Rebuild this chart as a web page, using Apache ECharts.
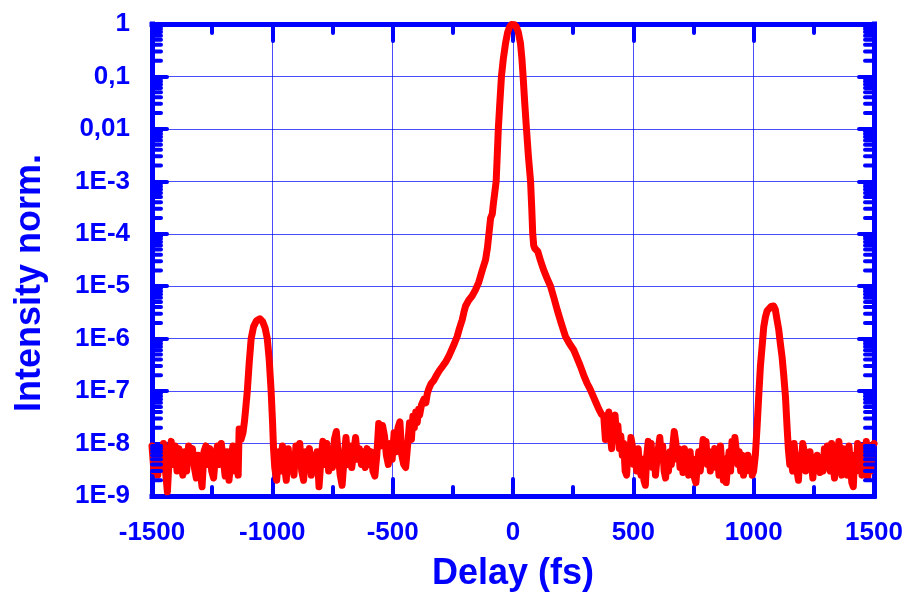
<!DOCTYPE html>
<html>
<head>
<meta charset="utf-8">
<script src="https://cdn.jsdelivr.net/npm/echarts@6/dist/echarts.min.js"></script>
<style>
  html, body { margin: 0; padding: 0; background: #ffffff; }
  #chart { width: 908px; height: 597px; }
</style>
</head>
<body>
<div id="chart"></div>
<script>
// Autocorrelation trace: delay (fs) vs normalised intensity, log scale.
// Each segment is a list of [delay, intensity] pairs.

// Noise floor, far left
var floorA = [
  [-1500, 9e-9], [-1492, 3e-9], [-1484, 6e-9], [-1476, 2.5e-9], [-1468, 8e-9],
  [-1460, 4e-9], [-1452, 10e-9], [-1444, 3e-9], [-1436, 1.2e-9], [-1428, 6e-9],
  [-1420, 11e-9], [-1412, 4e-9], [-1404, 9e-9], [-1396, 3e-9], [-1388, 8e-9],
  [-1380, 4.5e-9], [-1372, 2.5e-9], [-1364, 7e-9], [-1356, 3e-9], [-1348, 9e-9],
  [-1340, 5e-9], [-1332, 8e-9], [-1324, 3.5e-9], [-1316, 2.2e-9], [-1308, 6e-9],
  [-1300, 3e-9], [-1292, 1.5e-9], [-1284, 7e-9], [-1276, 9e-9], [-1268, 4e-9],
  [-1260, 8e-9], [-1252, 3e-9], [-1244, 2.2e-9], [-1236, 6e-9], [-1228, 9e-9],
  [-1220, 4e-9], [-1212, 10e-9], [-1204, 5e-9], [-1196, 2.4e-9], [-1188, 7e-9],
  [-1180, 2e-9], [-1172, 5e-9], [-1164, 9e-9], [-1156, 3e-9], [-1148, 6e-9],
  [-1142, 2.5e-9]
];

// Satellite pulse at negative delay
var echoLeft = [
  [-1138, 1.9e-8], [-1130, 1.2e-8], [-1122, 1.6e-8], [-1116, 2.6e-8], [-1110, 5e-8],
  [-1104, 1e-7], [-1096, 3.5e-7], [-1088, 1e-6], [-1078, 1.7e-6], [-1066, 2.2e-6],
  [-1052, 2.4e-6], [-1040, 2.1e-6], [-1030, 1.6e-6], [-1021, 1e-6], [-1013, 4e-7],
  [-1005, 1e-7], [-999, 2.5e-8], [-995, 8e-9]
];

// Noise floor between satellite and main pulse (negative side)
var floorB = [
  [-990, 3.5e-9], [-982, 2e-9], [-974, 7e-9], [-966, 3e-9], [-958, 9e-9],
  [-950, 4e-9], [-942, 2e-9], [-934, 8e-9], [-926, 3e-9], [-918, 6e-9],
  [-910, 2.5e-9], [-902, 9e-9], [-894, 4e-9], [-886, 10e-9], [-878, 3e-9],
  [-870, 2e-9], [-862, 7e-9], [-854, 3.5e-9], [-846, 8e-9], [-838, 2.5e-9],
  [-830, 6e-9], [-822, 3e-9], [-814, 7e-9], [-806, 1.5e-9], [-798, 5e-9],
  [-790, 11e-9], [-782, 4e-9], [-774, 10e-9], [-766, 3e-9], [-758, 6e-9],
  [-750, 3.5e-9], [-742, 12e-9], [-734, 17e-9], [-726, 6e-9], [-718, 2.5e-9],
  [-710, 1.6e-9], [-702, 5e-9], [-694, 13e-9], [-686, 4e-9], [-678, 9e-9],
  [-670, 3.5e-9], [-662, 7e-9], [-654, 13e-9], [-646, 5e-9], [-638, 8e-9],
  [-630, 4e-9], [-622, 7e-9], [-614, 3.5e-9], [-606, 8e-9], [-598, 4e-9],
  [-590, 7e-9], [-582, 3e-9], [-574, 2.4e-9], [-566, 6e-9], [-558, 24e-9],
  [-550, 9e-9], [-542, 22e-9], [-534, 14e-9], [-526, 6e-9], [-518, 4e-9],
  [-510, 10e-9], [-502, 5e-9], [-494, 16e-9], [-486, 7e-9], [-478, 20e-9],
  [-470, 26e-9], [-462, 6e-9], [-454, 4e-9], [-446, 3.5e-9], [-438, 9e-9],
  [-430, 25e-9], [-422, 12e-9], [-416, 33e-9]
];

// Main pulse with its pedestal
var mainPulse = [
  [-410, 2e-8], [-404, 4e-8], [-398, 2.5e-8], [-392, 4.5e-8], [-388, 3.5e-8],
  [-380, 5.5e-8], [-370, 7e-8], [-362, 6e-8], [-356, 9e-8], [-350, 1.1e-7],
  [-340, 1.4e-7], [-329, 1.6e-7], [-318, 2e-7], [-305, 2.5e-7], [-292, 3e-7],
  [-280, 3.6e-7], [-268, 4.5e-7], [-256, 6e-7], [-244, 8e-7], [-232, 1.1e-6],
  [-222, 1.6e-6], [-211, 2.3e-6], [-204, 3.2e-6], [-197, 4.2e-6], [-184, 5.4e-6],
  [-170, 6.5e-6], [-156, 8.5e-6], [-142, 1.2e-5], [-128, 2e-5], [-114, 3.2e-5],
  [-106, 5.5e-5], [-100, 1e-4], [-93, 2e-4], [-86, 2.4e-4], [-82, 3.6e-4],
  [-76, 6e-4], [-70, 1e-3], [-65, 3.5e-3], [-61, 1e-2], [-55, 3e-2],
  [-48, 0.1], [-40, 0.22], [-31, 0.43], [-22, 0.7], [-14, 0.88],
  [-6, 0.98], [0, 1], [6, 0.97], [14, 0.88], [22, 0.7],
  [31, 0.43], [37, 0.22], [42, 0.1], [49, 0.03], [56, 0.01],
  [64, 3e-3], [73, 1e-3], [78, 3e-4], [82, 1e-4], [86, 6e-5],
  [90, 5.3e-5], [103, 4.6e-5], [115, 3e-5], [128, 2e-5], [142, 1.4e-5],
  [156, 1e-5], [170, 6e-6], [184, 3.5e-6], [200, 2e-6], [218, 1.1e-6],
  [235, 8e-7], [253, 6e-7], [266, 4.3e-7], [280, 3e-7], [294, 2e-7],
  [308, 1.4e-7], [320, 1.1e-7], [333, 8e-8], [345, 6e-8], [357, 4.5e-8],
  [368, 3.6e-8], [377, 3.4e-8]
];

// Noise floor between main pulse and satellite (positive side)
var floorC = [
  [384, 12e-9], [392, 30e-9], [398, 40e-9], [404, 15e-9], [410, 8e-9],
  [416, 25e-9], [424, 35e-9], [430, 14e-9], [436, 22e-9], [442, 8e-9],
  [448, 14e-9], [454, 6e-9], [460, 10e-9], [466, 3e-9], [472, 2.5e-9],
  [478, 7e-9], [484, 5e-9], [490, 13e-9], [496, 9e-9], [502, 4e-9],
  [508, 7e-9], [514, 3e-9], [520, 8e-9], [526, 3.5e-9], [532, 2.5e-9],
  [538, 5e-9], [544, 2e-9], [550, 1.6e-9], [556, 6e-9], [562, 11e-9],
  [568, 5e-9], [574, 10e-9], [580, 3.5e-9], [586, 7e-9], [592, 2.5e-9],
  [598, 5e-9], [604, 8e-9], [610, 13e-9], [616, 6e-9], [622, 9e-9],
  [628, 3e-9], [634, 2.2e-9], [640, 5e-9], [646, 3e-9], [652, 7e-9],
  [658, 4e-9], [664, 9e-9], [670, 17e-9], [676, 11e-9], [682, 5e-9],
  [688, 8e-9], [694, 3.5e-9], [700, 6e-9], [706, 2.8e-9], [712, 8e-9],
  [718, 4e-9], [724, 6e-9], [730, 2.5e-9], [736, 7e-9], [742, 3e-9],
  [748, 5e-9], [754, 2.2e-9], [760, 1.8e-9], [766, 4e-9], [772, 7e-9],
  [778, 3e-9], [784, 6e-9], [790, 12e-9], [796, 8e-9], [802, 11e-9],
  [808, 4e-9], [814, 6e-9], [820, 3e-9], [826, 7e-9], [832, 4.5e-9],
  [838, 8e-9], [844, 3.5e-9], [850, 6e-9], [856, 2.5e-9], [862, 9e-9],
  [868, 4e-9], [874, 2e-9], [880, 5e-9], [886, 1.8e-9], [892, 4e-9],
  [898, 7e-9], [904, 3e-9], [910, 11e-9], [916, 6e-9], [922, 13e-9],
  [928, 12e-9], [934, 4e-9], [940, 7e-9], [946, 3e-9], [952, 6e-9],
  [958, 2.5e-9], [964, 5e-9], [970, 3e-9], [976, 6e-9], [982, 3.5e-9],
  [988, 5e-9], [994, 2.5e-9], [1000, 3e-9]
];

// Satellite pulse at positive delay
var echoRight = [
  [1007, 6e-9], [1014, 2e-8], [1021, 8e-8], [1028, 3e-7], [1035, 7e-7],
  [1042, 1.7e-6], [1049, 2.6e-6], [1056, 3.4e-6], [1063, 3.7e-6], [1072, 4.1e-6],
  [1083, 4.2e-6], [1090, 3.6e-6], [1097, 2.3e-6], [1104, 1.5e-6], [1111, 8e-7],
  [1118, 4.5e-7], [1125, 2e-7], [1132, 8e-8], [1139, 2e-8], [1144, 8e-9]
];

// Noise floor, far right
var floorD = [
  [1150, 4e-9], [1156, 5e-9], [1162, 3e-9], [1168, 10e-9], [1174, 5e-9],
  [1180, 3e-9], [1186, 2e-9], [1192, 6e-9], [1198, 4e-9], [1204, 10e-9],
  [1210, 7e-9], [1216, 3e-9], [1222, 6e-9], [1228, 3.5e-9], [1234, 7e-9],
  [1240, 4e-9], [1246, 2.2e-9], [1252, 5e-9], [1258, 3e-9], [1264, 6e-9],
  [1270, 4e-9], [1276, 2.8e-9], [1282, 5e-9], [1288, 3e-9], [1294, 8e-9],
  [1300, 4e-9], [1306, 9e-9], [1312, 5e-9], [1318, 3e-9], [1324, 10e-9],
  [1330, 4e-9], [1336, 2.2e-9], [1342, 9e-9], [1348, 4e-9], [1354, 11e-9],
  [1360, 5e-9], [1366, 2.5e-9], [1372, 8e-9], [1378, 3e-9], [1384, 6e-9],
  [1390, 2.5e-9], [1396, 9e-9], [1402, 4e-9], [1408, 1.8e-9], [1414, 1.5e-9],
  [1420, 6e-9], [1426, 3e-9], [1432, 10e-9], [1438, 4e-9], [1444, 8e-9],
  [1450, 2.5e-9], [1456, 9e-9], [1462, 3e-9], [1468, 11e-9], [1474, 2.2e-9],
  [1480, 7e-9], [1486, 3e-9], [1492, 9e-9], [1500, 10e-9]
];

// Axis ranges and tick labels
var delayRange = [-1500, 1500];
var delayStep = 500;
var intensityRange = [1e-9, 1];
var intensityTickLabels = ['1E-9', '1E-8', '1E-7', '1E-6', '1E-5', '1E-4', '1E-3', '0,01', '0,1', '1'];

var trace = [].concat(floorA, echoLeft, floorB, mainPulse, floorC, echoRight, floorD);

// Minor ticks of the log axis: 2..9 within each decade
var minorTickValues = [];
for (var e = -9; e < 0; e++) {
  for (var k = 2; k <= 9; k++) {
    minorTickValues.push([0, k * Math.pow(10, e)]);
  }
}

var BLUE = '#0000ff';
var labelFont = 'Liberation Sans, Arial, sans-serif';

var chart = echarts.init(document.getElementById('chart'), null, { renderer: 'canvas' });

var tickStyle = { color: BLUE, width: 4, cap: 'round' };
var frameLine = { show: true, onZero: false, lineStyle: { color: BLUE, width: 5, cap: 'square' } };

chart.setOption({
  animation: false,
  backgroundColor: '#ffffff',
  grid: { left: 152, right: 34, top: 24, bottom: 97, containLabel: false },
  xAxis: [
    {
      type: 'value',
      min: delayRange[0], max: delayRange[1], interval: delayStep,
      position: 'bottom',
      axisLine: frameLine,
      axisTick: { show: true, inside: true, length: 17, lineStyle: tickStyle },
      minorTick: { show: true, splitNumber: 2, length: 9, lineStyle: tickStyle },
      splitLine: { show: true, lineStyle: { color: 'rgba(0,0,255,0.7)', width: 1 } },
      axisLabel: {
        show: true, margin: 24, color: BLUE, fontSize: 26, fontWeight: 'bold',
        fontFamily: labelFont,
        formatter: function (v) { return String(v); }
      },
      name: 'Delay (fs)',
      nameLocation: 'middle',
      nameGap: 60,
      nameTextStyle: { color: BLUE, fontSize: 36, fontWeight: 'bold', fontFamily: labelFont }
    },
    {
      type: 'value',
      min: delayRange[0], max: delayRange[1], interval: delayStep,
      position: 'top',
      axisLine: frameLine,
      axisTick: { show: true, inside: true, length: 17, lineStyle: tickStyle },
      minorTick: { show: true, splitNumber: 2, length: 9, lineStyle: tickStyle },
      splitLine: { show: false },
      axisLabel: { show: false }
    }
  ],
  yAxis: [
    {
      type: 'log',
      logBase: 10,
      min: intensityRange[0], max: intensityRange[1],
      position: 'left',
      axisLine: frameLine,
      axisTick: { show: true, inside: true, length: 15, lineStyle: tickStyle },
      splitLine: { show: true, lineStyle: { color: 'rgba(0,0,255,0.7)', width: 1 } },
      axisLabel: {
        show: true, margin: 22, color: BLUE, fontSize: 26, fontWeight: 'bold',
        fontFamily: labelFont,
        formatter: function (v) {
          var i = Math.round(Math.log10(v)) + 9;
          return intensityTickLabels[i] || '';
        }
      },
      name: 'Intensity norm.',
      nameLocation: 'middle',
      nameGap: 104,
      nameRotate: 90,
      nameTextStyle: {
        color: BLUE, fontSize: 36, fontWeight: 'bold', fontFamily: labelFont,
        padding: [0, 46, 0, 0]
      }
    },
    {
      type: 'log',
      logBase: 10,
      min: intensityRange[0], max: intensityRange[1],
      position: 'right',
      axisLine: frameLine,
      axisTick: { show: true, inside: true, length: 15, lineStyle: tickStyle },
      splitLine: { show: false },
      axisLabel: { show: false }
    }
  ],
  series: [
    {
      type: 'custom',
      name: 'minor ticks',
      xAxisIndex: 0,
      yAxisIndex: 0,
      silent: true,
      z: 5,
      data: minorTickValues,
      renderItem: function (params, api) {
        var cs = params.coordSys;
        var y = api.coord([api.value(0), api.value(1)])[1];
        var style = { stroke: BLUE, lineWidth: 4, lineCap: 'round' };
        return {
          type: 'group',
          children: [
            { type: 'line', shape: { x1: cs.x, y1: y, x2: cs.x + 9, y2: y }, style: style },
            { type: 'line', shape: { x1: cs.x + cs.width - 9, y1: y, x2: cs.x + cs.width, y2: y }, style: style }
          ]
        };
      }
    },
    {
      type: 'line',
      name: 'trace',
      xAxisIndex: 0,
      yAxisIndex: 0,
      data: trace,
      showSymbol: false,
      symbol: 'none',
      sampling: false,
      clip: true,
      z: 3,
      lineStyle: { color: '#ff0000', width: 7, join: 'round', cap: 'round' }
    }
  ]
});
</script>
</body>
</html>
